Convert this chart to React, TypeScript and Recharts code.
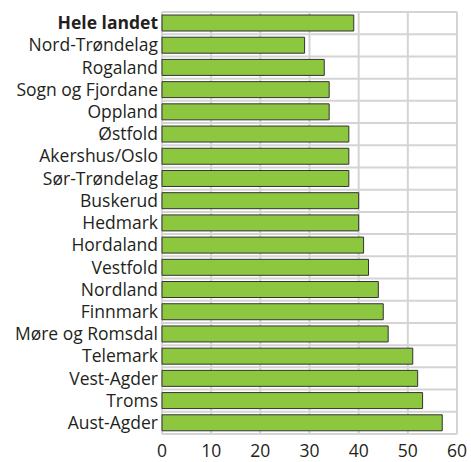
import * as React from 'react';
import { BarChart, Bar, XAxis, YAxis, CartesianGrid } from 'recharts';

const regions = [
    'Hele landet', 'Nord-Trøndelag', 'Rogaland', 'Sogn og Fjordane', 'Oppland',
    'Østfold', 'Akershus/Oslo', 'Sør-Trøndelag', 'Buskerud', 'Hedmark',
    'Hordaland', 'Vestfold', 'Nordland', 'Finnmark', 'Møre og Romsdal',
    'Telemark', 'Vest-Agder', 'Troms', 'Aust-Agder'
];
const values = [39, 29, 33, 34, 34, 38, 38, 38, 40, 40, 41, 42, 44, 45, 46, 51, 52, 53, 57];
const xTicks = [0, 10, 20, 30, 40, 50, 60];

const data = regions.map((name, i) => ({ name, value: values[i] }));

const FONT = '"Open Sans", sans-serif';

const RegionTick = (props: any) => {
    const { x, y, payload } = props;
    const bold = payload.value === 'Hele landet';
    return (
        <text x={x} y={y} dy="0.35em" textAnchor="end" fill="#231f20"
            fontFamily={FONT} fontSize={17.5} fontWeight={bold ? 700 : 400}>
            {payload.value}
        </text>
    );
}

// lines between the category bands, not through their middles
const bandLines = (props: any) => {
    const { offset } = props;
    const step = offset.height / regions.length;
    const out: number[] = [];
    for (let i = 0; i <= regions.length; i++) out.push(offset.top + i * step);
    return out;
}

export default function App() {
    return (
        <div style={{ position: 'absolute', left: 0, top: 0 }}>
            <BarChart width={471} height={462} data={data} layout="vertical"
                margin={{ top: 12, right: 14, bottom: 0, left: 0 }}>
                <CartesianGrid stroke="#d4d4d4" strokeWidth={2}
                    horizontalCoordinatesGenerator={bandLines} />
                <XAxis type="number" domain={[0, 60]} ticks={xTicks} axisLine={false}
                    tickLine={false} tickSize={0} tickMargin={11} height={28}
                    tick={{ fill: '#231f20', fontFamily: FONT, fontSize: 17.5 }} interval={0} />
                <YAxis type="category" dataKey="name" width={162} axisLine={false}
                    tickLine={false} tickSize={0} tickMargin={4} interval={0}
                    tick={<RegionTick />} />
                <Bar dataKey="value" fill="#8dc63f" stroke="#333333" strokeWidth={1}
                    barSize={16} isAnimationActive={false} />
            </BarChart>
        </div>
    );
}
